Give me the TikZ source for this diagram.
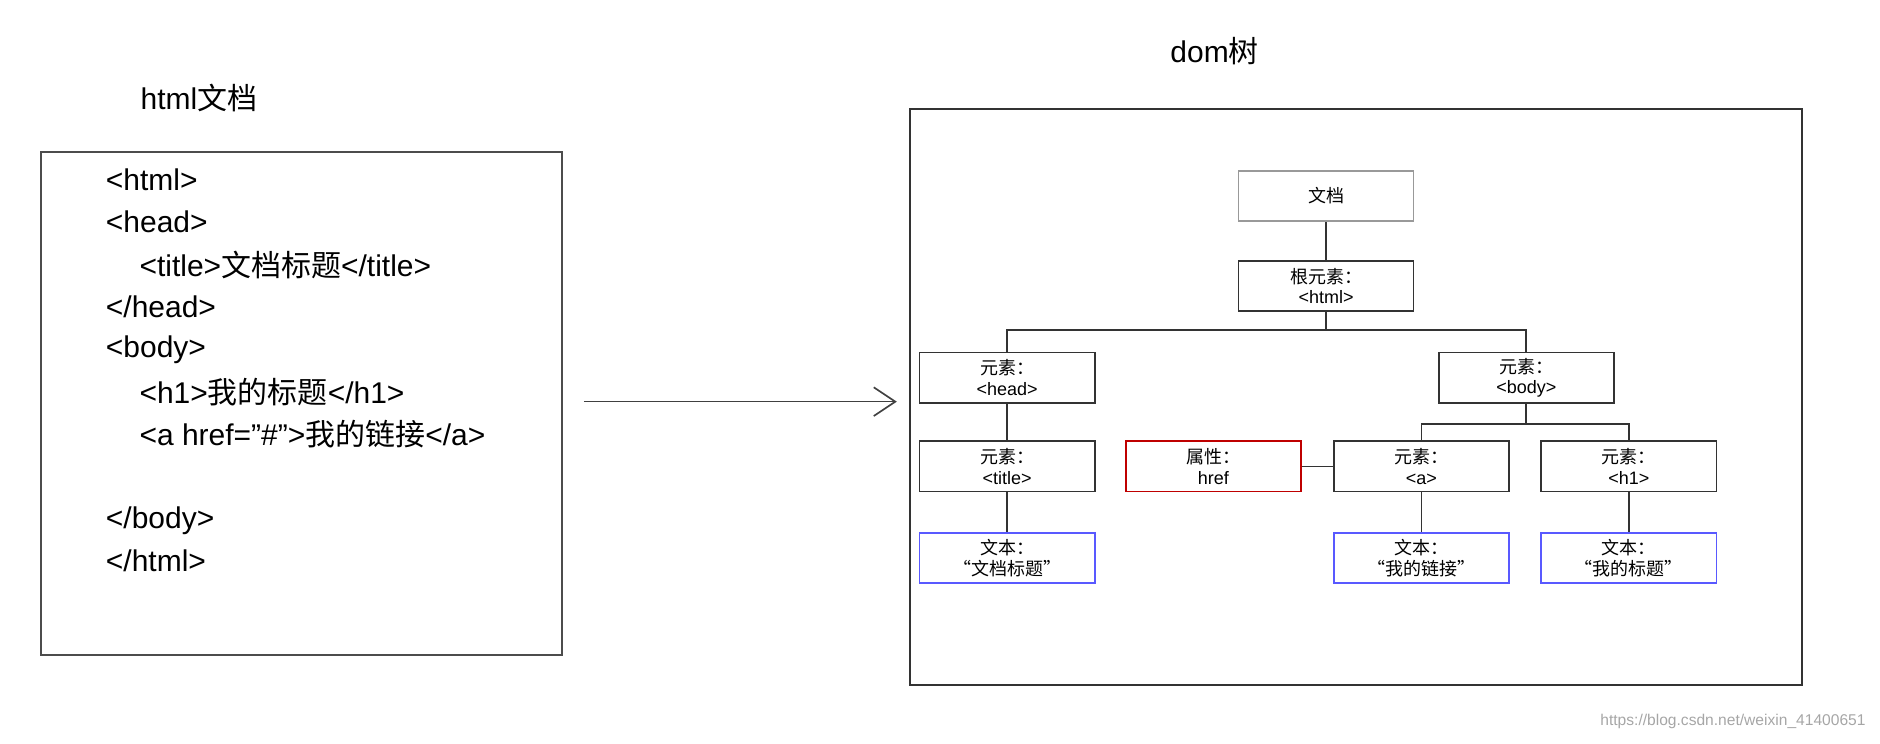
\documentclass[tikz,border=0pt]{standalone}
\usetikzlibrary{arrows.meta}
\usepackage{fontspec}
\setmainfont{Liberation Sans}
\newfontfamily\cjk{Noto Sans CJK SC}
\newcommand{\zh}[1]{{\cjk #1}}
\newcommand{\dq}{\symbol{34}}
\begin{document}
\begin{tikzpicture}[x=0.5pt,y=-0.5pt,
  code/.style={anchor=west,inner sep=0pt,font=\fontsize{12.5}{13}\selectfont},
  tn/.style={draw=black!80,line width=0.7pt,minimum width=73pt,minimum height=21pt,inner sep=0pt,align=center,font=\fontsize{7.5}{8.5}\selectfont},
  gbox/.style={tn,draw=black!40},
  rbox/.style={tn,draw=red!75!black},
  bbox/.style={tn,draw=blue!65},
  ln/.style={line width=0.7pt,black!80}]
\useasboundingbox (0,0) rectangle (1568,620);
\node[font=\fontsize{12.5}{14}\selectfont] (t1) at (166,82) {html\zh{文档}};
\node[font=\fontsize{12.5}{14}\selectfont] (t2) at (1013,43) {dom\zh{树}};
\draw[black!70,line width=0.8pt] (34,127) rectangle (469,546);
\node[code] (c1) at (88,150) {<html>};
\node[code] (c2) at (88,185) {<head>};
\node[code] (c3) at (116,221) {<title>\zh{文档标题}</title>};
\node[code] (c4) at (88,256) {</head>};
\node[code] (c5) at (88,292) {<body>};
\node[code] (c6) at (116,327) {<h1>\zh{我的标题}</h1>};
\node[code] (c7) at (116,362) {<a href=\dq\#\dq>\zh{我的链接}</a>};
\node[code] (c8) at (88,434) {</body>};
\node[code] (c9) at (88,468) {</html>};
\coordinate (as) at (487,335);
\coordinate (ae) at (748,335);
\draw[black!75,line width=0.7pt,-{Straight Barb[length=9pt,width=12pt]}] (as) -- (ae);
\draw[black!80,line width=0.8pt] (759,91) rectangle (1503,571);
\node[gbox] (doc) at (1106,163.5) {\zh{文档}};
\node[tn] (root) at (1106,238.5) {\zh{根元素：}\\<html>};
\node[tn] (head) at (840,315) {\zh{元素：}\\<head>};
\node[tn] (body) at (1273,315) {\zh{元素：}\\<body>};
\node[tn] (title) at (840,389) {\zh{元素：}\\<title>};
\node[rbox] (href) at (1012,389) {\zh{属性：}\\href};
\node[tn] (a) at (1185.5,389) {\zh{元素：}\\<a>};
\node[tn] (h1) at (1358.5,389) {\zh{元素：}\\<h1>};
\node[bbox] (tt) at (840,465.5) {\zh{文本：}\\\zh{“文档标题”}};
\node[bbox] (ta) at (1185.5,465.5) {\zh{文本：}\\\zh{“我的链接”}};
\node[bbox] (th) at (1358.5,465.5) {\zh{文本：}\\\zh{“我的标题”}};
\draw[ln] (doc) -- (root);
\draw[ln] (root.south) -- ++(0,15) -| (head.north);
\draw[ln] (root.south) -- ++(0,15) -| (body.north);
\draw[ln] (body.south) -- ++(0,17) -| (a.north);
\draw[ln] (body.south) -- ++(0,17) -| (h1.north);
\draw[ln] (head) -- (title);
\draw[ln] (title) -- (tt);
\draw[ln] (href) -- (a);
\draw[ln] (a) -- (ta);
\draw[ln] (h1) -- (th);
\node[font=\fontsize{6.5}{8}\selectfont,text=black!35,anchor=south east] (wm) at (1563,615) {https://blog.csdn.net/weixin\_41400651};
\end{tikzpicture}
\end{document}
